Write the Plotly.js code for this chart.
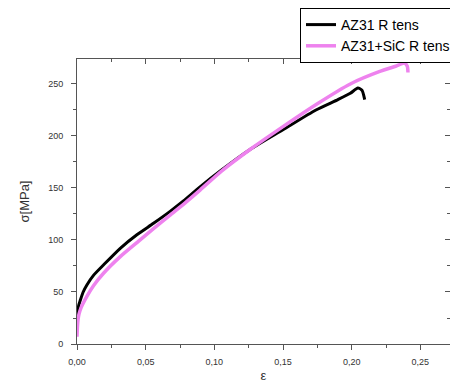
<!DOCTYPE html>
<html>
<head>
<meta charset="utf-8">
<script src="https://cdn.plot.ly/plotly-3.0.1.min.js"></script>
<style>html,body{margin:0;padding:0;background:#fff;}#chart{width:450px;height:383px;}</style>
</head>
<body>
<div id="chart"></div>
<script>
// AZ31 R tens
const strainAZ31 = [0, 0.0005, 0.0012, 0.0024, 0.0045, 0.0073, 0.012, 0.0193, 0.0315, 0.0436, 0.0557, 0.0678, 0.0775, 0.0896, 0.105, 0.126, 0.150, 0.174, 0.190, 0.199, 0.2045, 0.2075, 0.2095];
const stressAZ31 = [25, 31, 37, 42, 50, 57, 66, 76, 92, 105, 116, 127.5, 137.5, 151, 167, 187, 206, 225, 235, 241, 246, 244, 235];
// AZ31+SiC R tens
const strainSiC = [0, 0.0003, 0.0008, 0.0015, 0.0030, 0.0073, 0.012, 0.0193, 0.0315, 0.0436, 0.0557, 0.0678, 0.0790, 0.0896, 0.105, 0.126, 0.150, 0.175, 0.199, 0.2205, 0.232, 0.2385, 0.2405, 0.241];
const stressSiC = [7, 16, 24, 29, 35, 46, 56, 68, 84, 97.5, 111, 124, 136, 148, 166, 187, 209, 231, 250, 262, 267, 270, 267, 261];
const seriesNames = ["AZ31 R tens", "AZ31+SiC R tens"];

const axisColor = '#555';
const tickFont = {family: 'Arial, Liberation Sans, sans-serif', size: 9, color: '#333'};

const traces = [
  {x: strainAZ31, y: stressAZ31, name: seriesNames[0], type: 'scatter', mode: 'lines',
   line: {color: '#000000', width: 3, shape: 'spline', smoothing: 0.6}},
  {x: strainSiC, y: stressSiC, name: seriesNames[1], type: 'scatter', mode: 'lines',
   line: {color: '#EE82EE', width: 3.5, shape: 'spline', smoothing: 0.6}},
  {x: [], y: [], xaxis: 'x2', yaxis: 'y2', showlegend: false, hoverinfo: 'skip'}
];

const xr = [0, 0.2716];
const yr = [0, 274];

const layout = {
  width: 450, height: 383,
  margin: {l: 77, r: 0, t: 59, b: 39, autoexpand: false},
  paper_bgcolor: '#fff', plot_bgcolor: '#fff',
  separators: ', ',
  showlegend: true,
  legend: {
    xref: 'container', yref: 'container',
    x: 300/450, y: 1 - 8/383, xanchor: 'left', yanchor: 'top',
    bgcolor: '#fff', bordercolor: '#000', borderwidth: 1,
    font: {family: 'Arial, Liberation Sans, sans-serif', size: 14, color: '#000'},
    itemwidth: 30, traceorder: 'normal'
  },
  xaxis: {
    range: xr, dtick: 0.05, tick0: 0, tickformat: '.2f', automargin: true,
    ticks: 'outside', ticklen: 5, tickwidth: 1, tickcolor: axisColor,
    minor: {dtick: 0.025, ticks: 'outside', ticklen: 3, tickcolor: axisColor},
    showline: true, linecolor: axisColor, linewidth: 1,
    showgrid: false, zeroline: false, tickfont: tickFont, ticklabelstandoff: 4,
    title: {text: 'ε', font: {family: 'Arial, Liberation Sans, sans-serif', size: 13, color: '#333'}, standoff: 16}
  },
  yaxis: {
    range: yr, dtick: 50, tick0: 0, automargin: true,
    ticks: 'outside', ticklen: 5, tickwidth: 1, tickcolor: axisColor,
    minor: {dtick: 25, ticks: 'outside', ticklen: 3, tickcolor: axisColor},
    showline: true, linecolor: axisColor, linewidth: 1,
    showgrid: false, zeroline: false, tickfont: tickFont, ticklabelstandoff: 6,
    title: {text: 'σ[MPa]', font: {family: 'Arial, Liberation Sans, sans-serif', size: 13, color: '#333'}, standoff: 15}
  },
  xaxis2: {
    overlaying: 'x', side: 'top', anchor: 'y2', range: xr, dtick: 0.05, tick0: 0,
    ticks: 'inside', ticklen: 5, tickcolor: axisColor,
    minor: {dtick: 0.025, ticks: 'inside', ticklen: 3, tickcolor: axisColor},
    showline: true, linecolor: axisColor, linewidth: 1,
    showgrid: false, zeroline: false, showticklabels: false
  },
  yaxis2: {
    overlaying: 'y', side: 'right', anchor: 'x2', range: yr, dtick: 50, tick0: 0,
    ticks: 'inside', ticklen: 5, tickcolor: axisColor,
    minor: {dtick: 25, ticks: 'inside', ticklen: 3, tickcolor: axisColor},
    showline: false,
    showgrid: false, zeroline: false, showticklabels: false
  }
};

Plotly.newPlot('chart', traces, layout, {displayModeBar: false, staticPlot: true});
</script>
</body>
</html>
